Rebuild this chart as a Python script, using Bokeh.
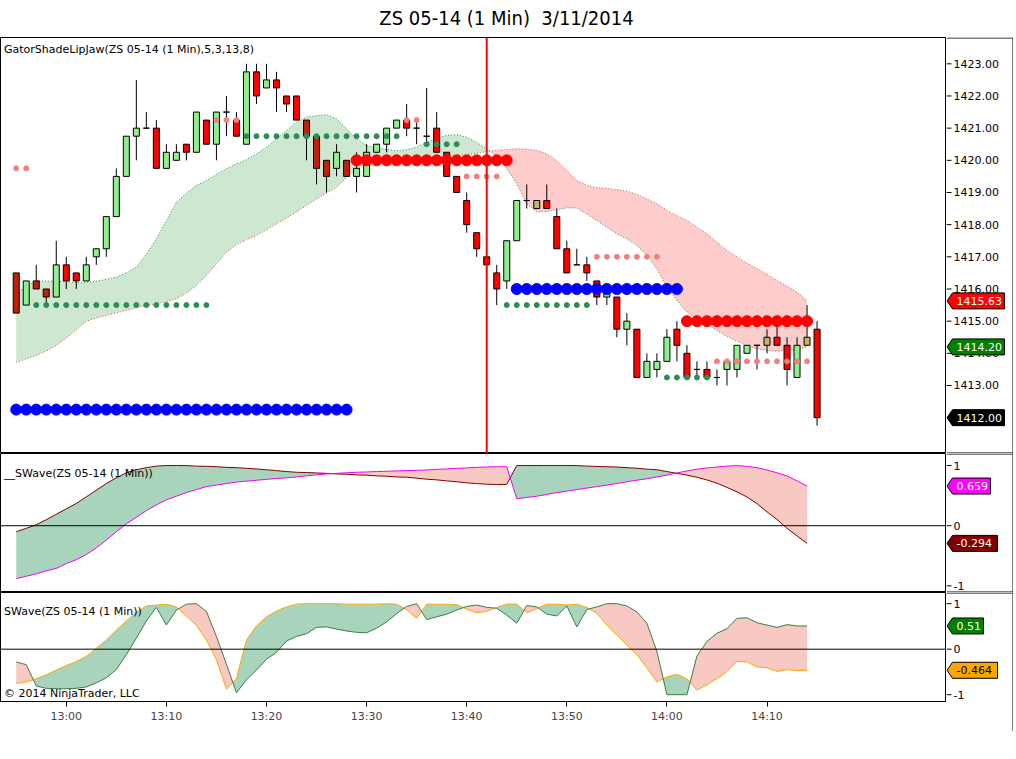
import numpy as np
from bokeh.plotting import figure
from bokeh.models import Range1d, Span, Label, Div, FixedTicker
from bokeh.layouts import column, row
from bokeh.core.properties import value
from bokeh.embed import file_html
from bokeh.resources import INLINE

# ---------------- data ----------------
TITLE = "ZS 05-14 (1 Min)&nbsp;&nbsp;3/11/2014"
MAIN_NAME = "GatorShadeLipJaw(ZS 05-14 (1 Min),5,3,13,8)"
SW2_NAME = "__SWave(ZS 05-14 (1 Min))"
SW3_NAME = "SWave(ZS 05-14 (1 Min))"
COPYRIGHT = "\u00a9 2014 NinjaTrader, LLC"

TIME_TICKS = [5, 15, 25, 35, 45, 55, 65, 75]
TIME_LABELS = ["13:00", "13:10", "13:20", "13:30", "13:40", "13:50", "14:00", "14:10"]
PRICE_TICKS = [1413, 1414, 1415, 1416, 1417, 1418, 1419, 1420, 1421, 1422, 1423]
PRICE_LABELS = ["1413.00", "1414.00", "1415.00", "1416.00", "1417.00", "1418.00",
                "1419.00", "1420.00", "1421.00", "1422.00", "1423.00"]
OSC_TICKS = [-1, 0, 1]
OSC_LABELS = ["-1", "0", "1"]

OPEN = [1416.5, 1415.5, 1416.25, 1416.0, 1415.75, 1416.75, 1416.5, 1416.25, 1417.0, 1417.25,
        1418.25, 1419.5, 1420.75, 1421.0, 1421.0, 1419.75, 1420.0, 1420.5, 1420.25, 1421.25,
        1420.5, 1421.5, 1421.25, 1420.5, 1422.75, 1422.25, 1422.5, 1422.0, 1422.0, 1421.25,
        1420.75, 1420.0, 1419.75, 1420.0, 1419.5, 1419.5, 1420.25, 1420.5, 1421.0, 1421.25,
        1421.0, 1420.75, 1421.0, 1420.25, 1419.5, 1418.75, 1417.75, 1417.0, 1416.5, 1416.25,
        1417.5, 1418.75, 1418.5, 1418.75, 1418.25, 1417.25, 1416.75, 1416.75, 1416.25, 1415.75,
        1415.75, 1414.75, 1414.75, 1413.25, 1413.5, 1413.75, 1414.75, 1414.0, 1413.5, 1413.5,
        1413.25, 1413.5, 1413.5, 1414.0, 1414.25, 1414.25, 1414.5, 1414.25, 1413.25, 1414.25,
        1414.75]
HIGH = [1416.5, 1416.25, 1416.75, 1416.0, 1417.5, 1417.0, 1416.5, 1417.0, 1417.25, 1418.25,
        1419.75, 1420.75, 1422.5, 1421.5, 1421.25, 1420.5, 1420.5, 1420.5, 1421.5, 1421.25,
        1421.5, 1422.0, 1421.5, 1423.0, 1423.0, 1423.0, 1422.75, 1422.0, 1422.0, 1421.25,
        1420.75, 1420.0, 1420.5, 1420.0, 1420.25, 1420.5, 1420.5, 1421.0, 1421.25, 1421.75,
        1421.25, 1422.25, 1421.5, 1420.25, 1419.5, 1419.0, 1417.75, 1417.0, 1416.75, 1417.5,
        1418.75, 1419.25, 1418.75, 1419.25, 1418.5, 1417.5, 1417.25, 1417.0, 1416.25, 1416.0,
        1415.75, 1415.25, 1414.75, 1414.0, 1414.0, 1414.75, 1415.0, 1414.25, 1413.75, 1413.75,
        1413.5, 1413.75, 1414.25, 1414.25, 1414.25, 1414.75, 1415.0, 1414.5, 1414.5, 1415.5,
        1415.0]
LOW = [1415.25, 1415.5, 1416.0, 1415.5, 1415.75, 1416.0, 1416.0, 1416.25, 1416.75, 1417.0,
       1418.25, 1419.5, 1420.0, 1421.0, 1419.75, 1419.75, 1420.0, 1420.0, 1420.25, 1420.5,
       1420.0, 1420.75, 1420.75, 1420.5, 1421.75, 1422.25, 1421.5, 1421.5, 1421.25, 1420.0,
       1419.25, 1419.0, 1419.5, 1419.5, 1419.0, 1419.5, 1420.25, 1420.25, 1421.0, 1420.75,
       1420.5, 1420.5, 1420.25, 1419.5, 1419.0, 1417.75, 1417.0, 1416.75, 1415.5, 1416.0,
       1417.5, 1418.5, 1418.5, 1418.5, 1417.25, 1416.5, 1416.75, 1416.25, 1415.5, 1415.5,
       1414.5, 1414.25, 1413.25, 1413.25, 1413.25, 1413.75, 1413.75, 1413.25, 1413.25, 1413.25,
       1413.0, 1413.0, 1413.25, 1414.0, 1413.5, 1414.0, 1414.25, 1413.0, 1413.25, 1414.25,
       1411.75]
CLOSE = [1415.25, 1416.25, 1416.0, 1415.75, 1416.75, 1416.25, 1416.25, 1416.75, 1417.25, 1418.25,
         1419.5, 1420.75, 1421.0, 1421.0, 1419.75, 1420.25, 1420.25, 1420.25, 1421.5, 1420.5,
         1421.5, 1421.5, 1420.75, 1422.75, 1422.0, 1422.5, 1422.25, 1421.75, 1421.25, 1420.75,
         1419.75, 1419.5, 1420.25, 1419.5, 1419.75, 1420.25, 1420.5, 1421.0, 1421.25, 1421.0,
         1421.0, 1420.75, 1420.25, 1419.5, 1419.0, 1418.0, 1417.25, 1416.75, 1416.0, 1417.5,
         1418.75, 1418.75, 1418.75, 1418.5, 1417.25, 1416.5, 1416.75, 1416.5, 1415.75, 1416.0,
         1414.75, 1415.0, 1413.25, 1413.75, 1413.75, 1414.5, 1414.25, 1413.25, 1413.5, 1413.25,
         1413.25, 1413.75, 1414.25, 1414.25, 1414.25, 1414.5, 1414.25, 1413.5, 1414.25, 1414.5,
         1412.0]

GATOR_LIPS = [1415.85, 1416.1, 1416.26, 1416.25, 1416.24, 1416.22, 1416.2, 1416.21, 1416.24, 1416.3,
              1416.37, 1416.5, 1416.68, 1417.08, 1417.56, 1418.13, 1418.7, 1418.98, 1419.22, 1419.37,
              1419.56, 1419.74, 1419.89, 1420.02, 1420.2, 1420.41, 1420.67, 1420.93, 1421.18, 1421.34,
              1421.39, 1421.42, 1421.29, 1420.98, 1420.67, 1420.46, 1420.39, 1420.34, 1420.3, 1420.33,
              1420.41, 1420.56, 1420.7, 1420.77, 1420.8, 1420.72, 1420.56, 1420.36, 1420.13, 1419.74,
              1419.27, 1418.65, 1418.39, 1418.41, 1418.46, 1418.52, 1418.52, 1418.33, 1418.13, 1417.92,
              1417.72, 1417.56, 1417.35, 1417.04, 1416.63, 1416.06, 1415.64, 1415.28, 1415.07, 1414.92,
              1414.71, 1414.52, 1414.38, 1414.24, 1414.14, 1414.09, 1414.07, 1414.09, 1414.12, 1414.20]
GATOR_JAW = [1413.72, 1413.83, 1413.93, 1414.07, 1414.24, 1414.48, 1414.73, 1415.0, 1415.1, 1415.18,
             1415.26, 1415.33, 1415.42, 1415.49, 1415.54, 1415.61, 1415.7, 1415.87, 1416.11, 1416.42,
             1416.78, 1417.14, 1417.38, 1417.53, 1417.66, 1417.84, 1418.03, 1418.21, 1418.39, 1418.6,
             1418.8, 1418.98, 1419.16, 1419.46, 1419.74, 1419.93, 1419.98, 1420.0, 1420.02, 1420.04,
             1420.06, 1420.08, 1420.1, 1420.12, 1420.15, 1420.18, 1420.22, 1420.27, 1420.31, 1420.34,
             1420.36, 1420.35, 1420.31, 1420.2, 1419.99, 1419.68, 1419.37, 1419.22, 1419.15, 1419.13,
             1419.09, 1419.04, 1418.94, 1418.8, 1418.65, 1418.44, 1418.28, 1418.13, 1417.92, 1417.72,
             1417.45, 1417.2, 1416.99, 1416.8, 1416.63, 1416.45, 1416.26, 1416.09, 1415.9, 1415.63]

SW2_SLOW = [-0.10, -0.044, 0.016, 0.10, 0.19, 0.28, 0.37, 0.48, 0.59, 0.70,
            0.795, 0.88, 0.93, 0.965, 0.99, 1.0, 1.0, 1.0, 0.99, 0.987,
            0.98, 0.97, 0.965, 0.954, 0.943, 0.93, 0.915, 0.90, 0.888, 0.883,
            0.877, 0.87, 0.86, 0.855, 0.845, 0.84, 0.828, 0.822, 0.81, 0.806,
            0.79, 0.773, 0.762, 0.745, 0.73, 0.713, 0.70, 0.69, 0.685, 0.686,
            1.0, 1.0, 1.0, 1.0, 1.0, 1.0, 1.0, 0.99, 0.985, 0.98,
            0.975, 0.965, 0.955, 0.94, 0.93, 0.90, 0.87, 0.84, 0.805, 0.76,
            0.707, 0.636, 0.564, 0.477, 0.367, 0.23, 0.104, -0.044, -0.17, -0.294]
SW2_FAST = [-0.88, -0.84, -0.80, -0.75, -0.71, -0.63, -0.565, -0.48, -0.37, -0.24,
            -0.10, 0.03, 0.14, 0.25, 0.345, 0.43, 0.49, 0.55, 0.60, 0.65,
            0.675, 0.70, 0.725, 0.74, 0.755, 0.77, 0.785, 0.795, 0.81, 0.83,
            0.845, 0.86, 0.87, 0.88, 0.888, 0.893, 0.90, 0.905, 0.91, 0.916,
            0.92, 0.927, 0.937, 0.943, 0.954, 0.96, 0.97, 0.976, 0.98, 0.98,
            0.45, 0.47, 0.49, 0.52, 0.55, 0.575, 0.60, 0.625, 0.65, 0.675,
            0.70, 0.73, 0.756, 0.78, 0.81, 0.84, 0.877, 0.91, 0.94, 0.96,
            0.975, 0.99, 1.0, 0.986, 0.964, 0.926, 0.88, 0.827, 0.745, 0.659]

SW3_GREEN = [-0.28, -0.34, -0.81, -0.86, -0.87, -0.87, -0.86, -0.83, -0.74, -0.63,
             -0.45, -0.12, 0.24, 0.62, 0.92, 0.53, 0.86, 0.99, 1.0, 0.83,
             0.28, -0.33, -0.96, -0.67, -0.46, -0.22, -0.07, 0.18, 0.28, 0.34,
             0.48, 0.49, 0.44, 0.40, 0.37, 0.36, 0.46, 0.60, 0.78, 0.94,
             1.0, 0.65, 0.71, 0.77, 0.86, 0.94, 0.97, 0.92, 0.90, 0.75,
             0.57, 0.96, 0.93, 0.77, 0.73, 0.95, 0.49, 0.87, 0.93, 1.0,
             1.0, 0.95, 0.82, 0.57, -0.05, -1.0, -1.0, -1.0, -0.15, 0.17,
             0.35, 0.45, 0.68, 0.69, 0.58, 0.53, 0.48, 0.54, 0.51, 0.51]
SW3_ORANGE = [-0.75, -0.72, -0.65, -0.56, -0.46, -0.36, -0.27, -0.16, 0.02, 0.20,
              0.42, 0.62, 0.81, 0.95, 0.97, 0.99, 0.93, 0.73, 0.52, 0.20,
              -0.23, -0.88, -0.65, 0.20, 0.51, 0.71, 0.84, 0.93, 0.99, 1.0,
              1.0, 1.0, 1.0, 0.99, 0.99, 0.99, 0.99, 1.0, 0.99, 0.87,
              0.68, 0.99, 0.99, 0.99, 0.98, 0.88, 0.80, 0.83, 0.92, 0.99,
              0.99, 0.80, 0.89, 0.99, 0.99, 0.97, 0.99, 0.92, 0.79, 0.53,
              0.31, 0.09, -0.12, -0.41, -0.72, -0.61, -0.55, -0.65, -0.90, -0.78,
              -0.65, -0.49, -0.27, -0.28, -0.39, -0.41, -0.49, -0.45, -0.47, -0.464]

# dot runs: (first bar, last bar, price)
BIG_RED_DOTS = [(34, 49, 1420.0), (67, 79, 1415.0)]
BIG_BLUE_DOTS = [(0, 33, 1412.25), (50, 66, 1416.0)]
SMALL_GREEN_DOTS = [(2, 19, 1415.5), (23, 38, 1420.75), (41, 44, 1420.5), (49, 57, 1415.5), (65, 69, 1413.25)]
SMALL_SALMON_DOTS = [(0, 1, 1419.75), (20, 22, 1421.25), (39, 40, 1421.25), (45, 48, 1419.5),
                     (58, 64, 1417.0), (70, 79, 1413.75)]
MARKER_BAR = 47

# candle paint overrides (style)
DARK_RED_BARS = [0, 2, 3, 29, 30, 31, 33]
KHAKI_BARS = [52, 75, 79]

# ---------------- layout ----------------
PW = 946               # price-panel figure width (frame 0..945)
SX0, SX1 = 946, 1013   # side (axis/tag) figure pixel span
SW = SX1 - SX0
X0, X1 = -1.57, 92.93  # bar index at frame left / right edge
FONT = "DejaVu Sans"
xr = Range1d(X0, X1)
bars = np.arange(len(OPEN))
osc_x = np.arange(len(SW2_SLOW))


def split_fill(x, a, b):
    x = list(map(float, x)); a = list(map(float, a)); b = list(map(float, b))
    xs, ya, yb = [x[0]], [a[0]], [b[0]]
    for k in range(1, len(x)):
        d0 = a[k - 1] - b[k - 1]
        d1 = a[k] - b[k]
        if d0 * d1 < 0:
            t = d0 / (d0 - d1)
            xc = x[k - 1] + t * (x[k] - x[k - 1])
            yc = a[k - 1] + t * (a[k] - a[k - 1])
            xs.append(xc); ya.append(yc); yb.append(yc)
        xs.append(x[k]); ya.append(a[k]); yb.append(b[k])
    return np.array(xs), np.array(ya), np.array(yb)


def shade(p, x, a, b, col_a_up, col_b_up):
    xs, ya, yb = split_fill(x, a, b)
    top = np.maximum(ya, yb)
    p.varea(x=xs, y1=yb, y2=top, fill_color=col_a_up, fill_alpha=1)
    p.varea(x=xs, y1=ya, y2=top, fill_color=col_b_up, fill_alpha=1)


def base(p, outline=True):
    p.xgrid.visible = False
    p.ygrid.visible = False
    p.outline_line_color = "black" if outline else None
    p.outline_line_width = 1
    p.background_fill_color = "white"
    p.border_fill_color = "white"


def panel(height, yr, bottom=0, xaxis=None):
    p = figure(width=PW, height=height, x_range=xr, y_range=yr, output_backend="svg",
               toolbar_location=None, x_axis_location=xaxis, y_axis_location=None,
               min_border_left=0, min_border_right=0, min_border_top=0, min_border_bottom=bottom)
    base(p)
    return p


def side(height, yr, ticks, labels, tags, ppu, bottom_line=True):
    q = figure(width=SW, height=height, x_range=Range1d(SX0, SX1), y_range=yr, output_backend="svg",
               toolbar_location=None, x_axis_location=None, y_axis_location=None,
               min_border_left=0, min_border_right=0, min_border_top=0, min_border_bottom=0)
    base(q, outline=False)
    half = 0.5 / ppu
    top, bot = yr.end - half, yr.start + half
    hx = [SX0, SX1]
    q.line(hx, [top, top], line_color="black", line_width=1)
    if bottom_line:
        q.line(hx, [bot, bot], line_color="black", line_width=1)
    q.line([SX1 - 0.5, SX1 - 0.5], [yr.start, yr.end], line_color="black", line_width=1)
    n = len(ticks)
    q.segment(x0=[SX0] * n, y0=ticks, x1=[SX0 + 5] * n, y1=ticks, line_color="black", line_width=1)
    q.text(x=[SX0 + 7] * n, y=ticks, text=labels, text_baseline="middle", text_align="left",
           text_font=value(FONT), text_font_size=value("11px"), text_color="black")
    for yv, txt, fill, tc in tags:
        dy = 8.0 / ppu
        w = 7 * len(txt) + 3
        q.patch(x=[SX0 + 0.5, SX0 + 6, SX0 + 6 + w, SX0 + 6 + w, SX0 + 6],
                y=[yv, yv + dy, yv + dy, yv - dy, yv - dy],
                fill_color=fill, line_color="black", line_width=1)
        q.text(x=[SX0 + 10], y=[yv], text=[txt], text_baseline="middle", text_align="left",
               text_font=value(FONT), text_font_size=value("11px"), text_color=tc)
    return q


def panel_label(p, y, text):
    p.add_layout(Label(x=X0 + 0.35, y=y, text=text, text_baseline="top", text_align="left",
                       text_color="black", text_font=FONT, text_font_size="11px"))


def dots(p, runs, size, color):
    xs, ys = [], []
    for a, b, lvl in runs:
        for k in range(a, b + 1):
            xs.append(k); ys.append(lvl)
    p.scatter(xs, ys, size=size, marker="circle", fill_color=color, line_color=color)


# ---------------- title ----------------
title = Div(text=TITLE, width=SX1, height=37, margin=(0, 0, 0, 0),
            styles={"text-align": "center",
                    "font-family": "'Liberation Sans Narrow', 'DejaVu Sans Condensed', sans-serif",
                    "font-size": "20px", "line-height": "36px", "color": "black"})

# ---------------- main price panel ----------------
H1 = 416
Y1 = Range1d(1410.886, 1423.818)
ppu1 = H1 / (Y1.end - Y1.start)
p1 = panel(H1, Y1)

band_x = np.arange(len(GATOR_LIPS))
shade(p1, band_x, GATOR_LIPS, GATOR_JAW, "#cde7d1", "#ffcccc")
p1.line(band_x, GATOR_LIPS, line_color="#2e8b57", line_width=1, line_dash="1 2")
p1.line(band_x, GATOR_JAW, line_color="#c05050", line_width=1, line_dash="1 2")

o = np.array(OPEN); c = np.array(CLOSE)
colors = []
for k in range(len(OPEN)):
    if k in KHAKI_BARS:
        colors.append("#bdb76b")
    elif c[k] > o[k]:
        colors.append("#90ee90")
    elif k in DARK_RED_BARS:
        colors.append("#c0200c")
    else:
        colors.append("#ff0000")
p1.segment(x0=bars, y0=LOW, x1=bars, y1=HIGH, line_color="black", line_width=1)
p1.vbar(x=bars, top=np.maximum(o, c), bottom=np.minimum(o, c), width=0.6,
        fill_color=colors, line_color="black", line_width=1)

dots(p1, SMALL_GREEN_DOTS, 5, "#2e8b57")
dots(p1, SMALL_SALMON_DOTS, 5, "#f08080")
dots(p1, BIG_RED_DOTS, 11, "#ff0000")
dots(p1, BIG_BLUE_DOTS, 11, "#0000ff")

p1.add_layout(Span(location=MARKER_BAR, dimension="height", line_color="#ff0000", line_width=2))
panel_label(p1, Y1.end - 5 / ppu1, MAIN_NAME)
q1 = side(H1, Y1, PRICE_TICKS, PRICE_LABELS,
          [(GATOR_JAW[-1], f"{GATOR_JAW[-1]:.2f}", "#ff0000", "white"),
           (GATOR_LIPS[-1], f"{GATOR_LIPS[-1]:.2f}", "#008000", "white"),
           (CLOSE[-1], f"{CLOSE[-1]:.2f}", "#000000", "white")], ppu1)

# ---------------- __SWave panel ----------------
H2 = 139
Y2 = Range1d(-1.11, 1.2)
ppu2 = H2 / (Y2.end - Y2.start)
p2 = panel(H2, Y2)
shade(p2, osc_x, SW2_SLOW, SW2_FAST, "#a9d4bc", "#f8c9c3")
p2.line(osc_x, SW2_SLOW, line_color="#800000", line_width=1)
p2.line(osc_x, SW2_FAST, line_color="#ee00ee", line_width=1)
p2.add_layout(Span(location=0, dimension="width", line_color="black", line_width=1))
panel_label(p2, Y2.end - 13 / ppu2, SW2_NAME)
q2 = side(H2, Y2, OSC_TICKS, OSC_LABELS,
          [(SW2_FAST[-1], f"{SW2_FAST[-1]:g}", "#ff00ff", "white"),
           (SW2_SLOW[-1], f"{SW2_SLOW[-1]:g}", "#800000", "white")], ppu2)

# ---------------- SWave panel ----------------
H3F = 109
AXH = 30
Y3 = Range1d(-1.15, 1.246)
ppu3 = H3F / (Y3.end - Y3.start)
p3 = panel(H3F + AXH, Y3, bottom=AXH, xaxis="below")
shade(p3, osc_x, SW3_ORANGE, SW3_GREEN, "#a9d4bc", "#f8c9c3")
p3.line(osc_x, SW3_ORANGE, line_color="#ffa500", line_width=1)
p3.line(osc_x, SW3_GREEN, line_color="#3a7d44", line_width=1)
p3.add_layout(Span(location=0, dimension="width", line_color="black", line_width=1))
panel_label(p3, Y3.end - 12 / ppu3, SW3_NAME)
p3.add_layout(Label(x=X0 + 0.35, y=Y3.start + 8 / ppu3, text=COPYRIGHT, text_baseline="middle",
                    text_align="left", text_color="black", text_font=FONT, text_font_size="11px"))
Y3S = Range1d(Y3.start - AXH / ppu3, Y3.end)
q3 = side(H3F + AXH, Y3S, OSC_TICKS, OSC_LABELS,
          [(SW3_GREEN[-1], f"{SW3_GREEN[-1]:g}", "#008000", "white"),
           (SW3_ORANGE[-1], f"{SW3_ORANGE[-1]:g}", "#ffa500", "black")], ppu3, bottom_line=False)

xa = p3.xaxis[0]
xa.ticker = FixedTicker(ticks=TIME_TICKS)
xa.major_label_overrides = {t: lab for t, lab in zip(TIME_TICKS, TIME_LABELS)}
xa.major_tick_out = 5
xa.major_tick_in = 0
xa.minor_tick_line_color = None
xa.major_label_standoff = 3
xa.major_label_text_font = FONT
xa.major_label_text_font_size = "11px"
xa.axis_line_color = "black"

layout = column(title,
                row(column(p1, p2, p3, spacing=0), column(q1, q2, q3, spacing=0), spacing=0),
                spacing=0)
open("out.html", "w").write(file_html(layout, INLINE))
